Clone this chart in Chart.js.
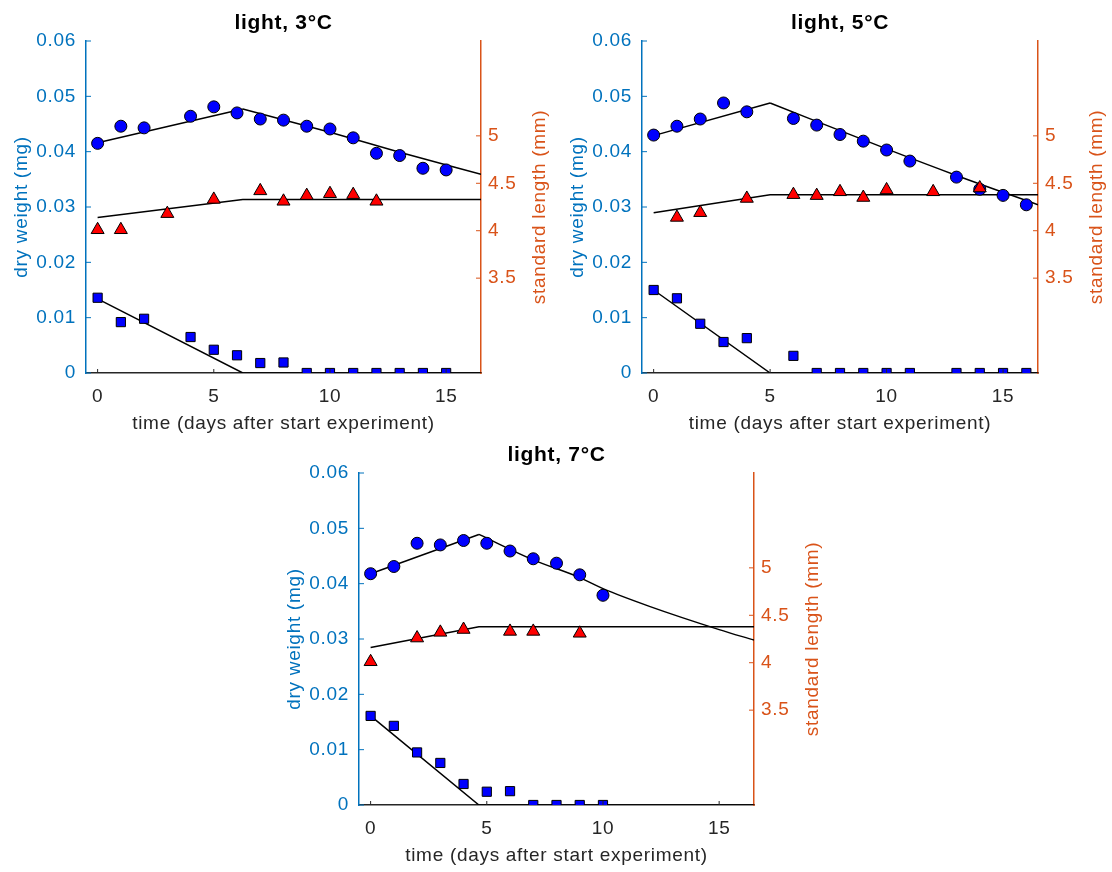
<!DOCTYPE html>
<html>
<head>
<meta charset="utf-8">
<script src="https://cdn.jsdelivr.net/npm/chart.js@4.4.0/dist/chart.umd.min.js"></script>
<style>
  html, body { margin: 0; padding: 0; background: #fff; overflow: hidden; }
  canvas { position: absolute; }
</style>
</head>
<body>
<canvas id="panel3" width="567" height="436" style="left:0px;top:0px"></canvas>
<canvas id="panel5" width="568" height="436" style="left:556px;top:0px"></canvas>
<canvas id="panel7" width="567" height="436" style="left:273px;top:432px"></canvas>
<script>
// tick labels
const xTicks = [0, 5, 10, 15];
const weightTicks = [0, 0.01, 0.02, 0.03, 0.04, 0.05, 0.06];
const lengthTicks = [3.5, 4, 4.5, 5];

// light, 3°C
const days3 = [0, 1, 2, 4, 5, 6, 7, 8, 9, 10, 11, 12, 13, 14, 15];
const weight3 = [0.0415, 0.0446, 0.0443, 0.0464, 0.0481, 0.0470, 0.0459, 0.0457, 0.0446, 0.0441, 0.0425, 0.0397, 0.0393, 0.0370, 0.0367];
const yolk3 = [0.0136, 0.0092, 0.0098, 0.0065, 0.0042, 0.0032, 0.0018, 0.0019, 0, 0, 0, 0, 0, 0, 0];
const lenDays3 = [0, 1, 3, 5, 7, 8, 9, 10, 11, 12];
const length3 = [4.01, 4.01, 4.18, 4.33, 4.42, 4.31, 4.37, 4.39, 4.38, 4.31];
const riseDays3 = [0, 6.25];
const rise3 = [0.0416, 0.0477];
const fallDays3 = [6.25, 10, 13, 16.5];
const fall3 = [0.0477, 0.0435, 0.0399, 0.0359];
const fitLDays3 = [0, 6.25, 16.5];
const fitL3 = [4.14, 4.33, 4.33];
const fitYDays3 = [0, 6.25, 16.5];
const fitY3 = [0.0134, 0, 0];

// light, 5°C
const days5 = [0, 1, 2, 3, 4, 6, 7, 8, 9, 10, 11, 13, 14, 15, 16];
const weight5 = [0.0430, 0.0446, 0.0459, 0.0488, 0.0472, 0.0460, 0.0448, 0.0431, 0.0419, 0.0403, 0.0383, 0.0354, 0.0332, 0.0321, 0.0304];
const yolk5 = [0.0150, 0.0135, 0.0089, 0.0056, 0.0063, 0.0031, 0, 0, 0, 0, 0, 0, 0, 0, 0];
const lenDays5 = [1, 2, 4, 6, 7, 8, 9, 10, 12, 14];
const length5 = [4.14, 4.19, 4.34, 4.38, 4.37, 4.41, 4.35, 4.43, 4.41, 4.45];
const riseDays5 = [0, 5];
const rise5 = [0.0429, 0.0488];
const fallDays5 = [5, 10, 13, 16.5];
const fall5 = [0.0488, 0.0405, 0.0357, 0.0304];
const fitLDays5 = [0, 5, 16.5];
const fitL5 = [4.19, 4.38, 4.38];
const fitYDays5 = [0, 5, 16.5];
const fitY5 = [0.0150, 0, 0];

// light, 7°C
const days7 = [0, 1, 2, 3, 4, 5, 6, 7, 8, 9, 10];
const weight7 = [0.0418, 0.0431, 0.0473, 0.0470, 0.0478, 0.0473, 0.0459, 0.0445, 0.0437, 0.0416, 0.0379];
const yolk7 = [0.0161, 0.0143, 0.0095, 0.0076, 0.0038, 0.0024, 0.0025, 0, 0, 0, 0];
const lenDays7 = [0, 2, 3, 4, 6, 7, 9];
const length7 = [4.01, 4.26, 4.32, 4.35, 4.33, 4.33, 4.31];
const riseDays7 = [0, 4.66];
const rise7 = [0.0418, 0.0489];
const fallDays7 = [4.66, 7, 9, 10, 12, 15, 16.5];
const fall7 = [0.0489, 0.0443, 0.0411, 0.0391, 0.0359, 0.0317, 0.0298];
const fitLDays7 = [0, 4.66, 16.5];
const fitL7 = [4.16, 4.38, 4.38];
const fitYDays7 = [0, 4.66, 16.5];
const fitY7 = [0.0161, 0, 0];

const WEIGHT_COLOR = '#0072BD';
const LENGTH_COLOR = '#D95319';
const DARK = '#262626';
const FAMILY = "'Liberation Sans', Arial, Helvetica, sans-serif";

function pts(xs, ys) {
  return xs.map((x, i) => ({ x: x, y: ys[i] }));
}

function fitLine(xs, ys, axis, smooth) {
  return {
    label: 'fit',
    data: pts(xs, ys),
    yAxisID: axis,
    showLine: true,
    pointRadius: 0,
    borderColor: '#000000',
    borderWidth: 1.5,
    cubicInterpolationMode: smooth ? 'monotone' : 'default',
    clip: 0,
    order: 2,
  };
}

// inward tick marks + right axis title (reads bottom to top)
const axisExtras = {
  id: 'axisExtras',
  beforeDraw(chart) {
    chart.ctx.letterSpacing = '0.7px';
  },
  afterDatasetsDraw(chart) {
    const { ctx, chartArea, scales } = chart;
    ctx.save();
    ctx.lineWidth = 1;

    ctx.strokeStyle = DARK;
    ctx.beginPath();
    scales.x.ticks.forEach(t => {
      const px = scales.x.getPixelForValue(t.value);
      ctx.moveTo(px, chartArea.bottom);
      ctx.lineTo(px, chartArea.bottom - 4);
    });
    ctx.stroke();

    ctx.strokeStyle = WEIGHT_COLOR;
    ctx.beginPath();
    scales.y.ticks.forEach(t => {
      const py = scales.y.getPixelForValue(t.value);
      ctx.moveTo(chartArea.left, py);
      ctx.lineTo(chartArea.left + 5, py);
    });
    ctx.stroke();

    ctx.strokeStyle = LENGTH_COLOR;
    ctx.beginPath();
    scales.y2.ticks.forEach(t => {
      const py = scales.y2.getPixelForValue(t.value);
      ctx.moveTo(chartArea.right, py);
      ctx.lineTo(chartArea.right - 5, py);
    });
    ctx.stroke();
    ctx.restore();
  },
  afterDraw(chart) {
    const { ctx, chartArea } = chart;
    ctx.save();
    ctx.letterSpacing = '0.7px';
    ctx.translate(chartArea.right + 59, (chartArea.top + chartArea.bottom) / 2);
    ctx.rotate(-Math.PI / 2);
    ctx.font = '19px ' + FAMILY;
    ctx.fillStyle = LENGTH_COLOR;
    ctx.textAlign = 'center';
    ctx.textBaseline = 'middle';
    ctx.fillText('standard length (mm)', 0, 0);
    ctx.restore();
  }
};

function drawPanel(canvasId, title, d) {
  const ctx = document.getElementById(canvasId).getContext('2d');
  const font = { family: FAMILY, size: 19 };

  const data = {
    datasets: [
      {
        label: 'standard length',
        data: pts(d.lenDays, d.length),
        yAxisID: 'y2',
        pointStyle: 'triangle',
        pointRadius: 7.5,
        backgroundColor: '#FF0000',
        borderColor: '#000000',
        pointBorderWidth: 1,
        clip: 0,
        order: 0,
      },
      {
        label: 'dry weight',
        data: pts(d.days, d.weight),
        yAxisID: 'y',
        pointStyle: 'circle',
        pointRadius: 6,
        backgroundColor: '#0000FF',
        borderColor: '#000000',
        pointBorderWidth: 1,
        clip: 0,
        order: 1,
      },
      {
        label: 'yolk',
        data: pts(d.days, d.yolk),
        yAxisID: 'y',
        pointStyle: 'rect',
        pointRadius: 6.5,
        backgroundColor: '#0000FF',
        borderColor: '#000000',
        pointBorderWidth: 1,
        clip: 0,
        order: 1,
      },
      fitLine(d.riseDays, d.rise, 'y', false),
      fitLine(d.fallDays, d.fall, 'y', true),
      fitLine(d.fitLDays, d.fitL, 'y2', false),
      fitLine(d.fitYDays, d.fitY, 'y', false),
    ],
  };

  //config
  const config = {
    type: 'scatter',
    data: data,
    options: {
      responsive: false,
      animation: false,
      events: [],
      layout: { padding: 0 },
      plugins: {
        legend: { display: false },
        tooltip: { enabled: false },
        title: {
          display: true,
          text: title,
          color: '#000000',
          font: { family: FAMILY, size: 21, weight: 'bold', lineHeight: 1.2 },
          padding: { top: 11, bottom: 4.8 },
        },
      },
      scales: {
        x: {
          type: 'linear',
          position: 'bottom',
          min: -0.5,
          max: 16.5,
          afterBuildTicks: s => { s.ticks = xTicks.map(v => ({ value: v })); },
          afterFit: s => { s.height = 63; },
          grid: { display: false, drawTicks: false },
          border: { display: true, color: DARK, width: 1.5 },
          ticks: { color: DARK, font: font, padding: 12, callback: v => String(v) },
          title: {
            display: true,
            text: 'time (days after start experiment)',
            color: DARK,
            font: font,
            padding: { top: 0, bottom: 1 },
          },
        },
        y: {
          type: 'linear',
          position: 'left',
          min: 0,
          max: 0.06,
          afterBuildTicks: s => { s.ticks = weightTicks.map(v => ({ value: v })); },
          afterFit: s => { s.width = 86; },
          grid: { display: false, drawTicks: false },
          border: { display: true, color: WEIGHT_COLOR, width: 1.5 },
          ticks: { color: WEIGHT_COLOR, font: font, padding: 10, callback: v => (v === 0 ? '0' : v.toFixed(2)) },
          title: {
            display: true,
            text: 'dry weight (mg)',
            color: WEIGHT_COLOR,
            font: font,
            padding: { top: 10, bottom: 0 },
          },
        },
        y2: {
          type: 'linear',
          position: 'right',
          min: 2.5,
          max: 6,
          afterBuildTicks: s => { s.ticks = lengthTicks.map(v => ({ value: v })); },
          afterFit: s => { s.width = 86; },
          grid: { display: false, drawTicks: false },
          border: { display: true, color: LENGTH_COLOR, width: 1.5 },
          ticks: { color: LENGTH_COLOR, font: font, padding: 7, callback: v => String(v) },
        },
      },
    },
    plugins: [axisExtras],
  };
  return new Chart(ctx, config);
}

drawPanel('panel3', 'light, 3°C', {
  days: days3, weight: weight3, yolk: yolk3,
  lenDays: lenDays3, length: length3,
  riseDays: riseDays3, rise: rise3,
  fallDays: fallDays3, fall: fall3,
  fitLDays: fitLDays3, fitL: fitL3,
  fitYDays: fitYDays3, fitY: fitY3,
});

drawPanel('panel5', 'light, 5°C', {
  days: days5, weight: weight5, yolk: yolk5,
  lenDays: lenDays5, length: length5,
  riseDays: riseDays5, rise: rise5,
  fallDays: fallDays5, fall: fall5,
  fitLDays: fitLDays5, fitL: fitL5,
  fitYDays: fitYDays5, fitY: fitY5,
});

drawPanel('panel7', 'light, 7°C', {
  days: days7, weight: weight7, yolk: yolk7,
  lenDays: lenDays7, length: length7,
  riseDays: riseDays7, rise: rise7,
  fallDays: fallDays7, fall: fall7,
  fitLDays: fitLDays7, fitL: fitL7,
  fitYDays: fitYDays7, fitY: fitY7,
});
</script>
</body>
</html>
